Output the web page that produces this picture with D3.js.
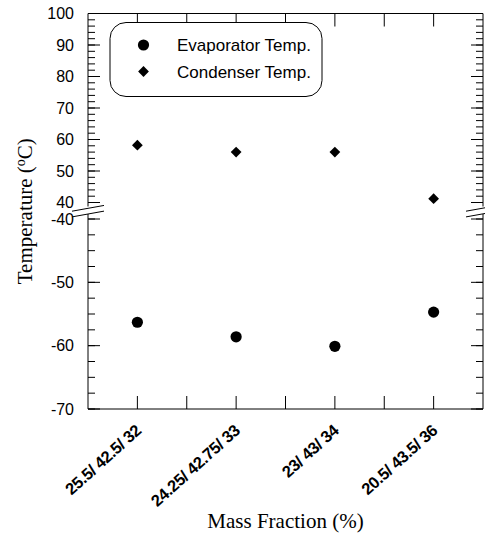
<!DOCTYPE html>
<meta charset="utf-8">
<head>
  <title>Temperature vs Mass Fraction</title>
  <style>
    body { margin: 0; background: #fff; }
    svg text { fill: #000; }
  </style>
</head>
<body>
<script src="https://d3js.org/d3.v7.min.js"></script>
<div id="chart"></div>
<script>

// data
var categories = ["25.5/ 42.5/ 32", "24.25/ 42.75/ 33", "23/ 43/ 34", "20.5/ 43.5/ 36"];
var evaporatorTemp = [-56.3, -58.6, -60.1, -54.7];
var condenserTemp = [58.2, 56.0, 56.0, 41.2];
var upperTicks = [40, 50, 60, 70, 80, 90, 100];
var lowerTicks = [-70, -60, -50, -40];
var seriesNames = ["Evaporator Temp.", "Condenser Temp."];

var width = 485, height = 533;
var pLeft = 88, pRight = 483, pTop = 13.5, pBottom = 409;

var svg = d3.select("#chart").append("svg")
    .attr("width", width)
    .attr("height", height);

// x: category index 1..4, half a step of padding each side
var x = d3.scaleLinear().domain([0.5, 4.5]).range([pLeft, pRight]);
// broken y axis: two scales
var yU = d3.scaleLinear().domain([40, 100]).range([202.5, pTop]);
var yL = d3.scaleLinear().domain([-70, -40]).range([pBottom, 219]);

var ax = svg.append("g").attr("stroke", "#000").attr("stroke-width", 1).attr("fill", "none");

// frame (left/right sides broken)
ax.append("line").attr("x1", pLeft).attr("x2", pRight).attr("y1", pTop).attr("y2", pTop);
ax.append("line").attr("x1", pLeft).attr("x2", pRight).attr("y1", pBottom).attr("y2", pBottom);
[pLeft, pRight].forEach(function(xx) {
  ax.append("line").attr("x1", xx).attr("x2", xx).attr("y1", pTop).attr("y2", 206.5);
  ax.append("line").attr("x1", xx).attr("x2", xx).attr("y1", 214).attr("y2", pBottom);
});

// y ticks, both sides, pointing in
function yTicks(scale, lo, hi, step, len) {
  for (var v = lo; v <= hi + 1e-9; v += step) {
    var yy = scale(v);
    ax.append("line").attr("x1", pLeft).attr("x2", pLeft + len).attr("y1", yy).attr("y2", yy);
    ax.append("line").attr("x1", pRight).attr("x2", pRight - len).attr("y1", yy).attr("y2", yy);
  }
}
yTicks(yU, 40, 100, 10, 12);
yTicks(yU, 40, 100, 2, 7);
yTicks(yL, -70, -40, 10, 12);
yTicks(yL, -70, -40, 2.5, 7);

// x ticks top and bottom
d3.range(1, 4.01, 0.5).forEach(function(v) {
  var xx = x(v);
  ax.append("line").attr("x1", xx).attr("x2", xx).attr("y1", pBottom).attr("y2", pBottom - 13);
  ax.append("line").attr("x1", xx).attr("x2", xx).attr("y1", pTop).attr("y2", pTop + 13);
});

// break marks
var brk = svg.append("g").attr("stroke", "#000").attr("stroke-width", 1)
    .style("fill", "none");
[[72, 104], [466, 490]].forEach(function(seg) {
  [0, 5.7].forEach(function(off) {
    var y0 = 211.2 + off;
    brk.append("line")
      .attr("x1", seg[0]).attr("y1", y0)
      .attr("x2", seg[1]).attr("y2", y0 - (seg[1] - seg[0]) * 0.18);
  });
});

// y tick labels
var lab = svg.append("g")
    .style("font", "16px 'Liberation Sans', Arial, sans-serif")
    .attr("text-anchor", "end");
lab.selectAll("text.u").data(upperTicks).enter().append("text")
  .attr("x", 74).attr("y", function(d) { return yU(d); })
  .attr("dy", "0.36em").text(function(d) { return d; });
lab.selectAll("text.l").data(lowerTicks).enter().append("text")
  .attr("x", 74).attr("y", function(d) { return yL(d); })
  .attr("dy", "0.36em").text(function(d) { return d; });

// x tick labels, rotated
svg.append("g").selectAll("text").data(categories).enter().append("text")
  .attr("text-anchor", "end")
  .style("font", "bold 16.5px 'Liberation Sans', Arial, sans-serif")
  .style("letter-spacing", "-0.4px")
  .attr("transform", function(d, i) { return "translate(" + (x(i + 1) + 5) + "," + 432 + ") rotate(-42)"; })
  .text(function(d) { return d; });

// axis titles
svg.append("text")
  .attr("x", (pLeft + pRight) / 2).attr("y", 527.5)
  .attr("text-anchor", "middle")
  .style("font", "21px 'Liberation Serif', 'Times New Roman', serif")
  .text("Mass Fraction (%)");

var yt = svg.append("text")
  .attr("transform", "translate(32," + ((pTop + pBottom) / 2) + ") rotate(-90)")
  .attr("text-anchor", "middle")
  .style("font", "21px 'Liberation Serif', 'Times New Roman', serif");
yt.append("tspan").text("Temperature (");
yt.append("tspan").attr("font-size", "14px").attr("dy", "-7").text("o");
yt.append("tspan").attr("dy", "7").text("C)");

// markers
var diamond = d3.symbol().type(d3.symbolSquare).size(58);
svg.append("g").selectAll("circle").data(evaporatorTemp).enter().append("circle")
  .attr("cx", function(d, i) { return x(i + 1); })
  .attr("cy", function(d) { return yL(d); })
  .attr("r", 5.6).attr("fill", "#000");
svg.append("g").selectAll("path").data(condenserTemp).enter().append("path")
  .attr("d", diamond)
  .attr("transform", function(d, i) { return "translate(" + x(i + 1) + "," + yU(d) + ") rotate(45)"; })
  .attr("fill", "#000");

// legend
var lg = svg.append("g");
lg.append("rect")
  .attr("x", 110).attr("y", 22.5).attr("width", 212).attr("height", 74)
  .attr("rx", 16).attr("ry", 16)
  .attr("fill", "#fff").attr("stroke", "#000").attr("stroke-width", 1);
lg.append("circle").attr("cx", 143.5).attr("cy", 45).attr("r", 5.6).attr("fill", "#000");
lg.append("path").attr("d", diamond)
  .attr("transform", "translate(143.5,71.5) rotate(45)").attr("fill", "#000");
lg.selectAll("text").data(seriesNames).enter().append("text")
  .attr("x", 177).attr("y", function(d, i) { return 45 + i * 26.5; })
  .attr("dy", "0.36em")
  .style("font", "17px 'Liberation Sans', Arial, sans-serif")
  .text(function(d) { return d; });

</script>
</body>
</html>
